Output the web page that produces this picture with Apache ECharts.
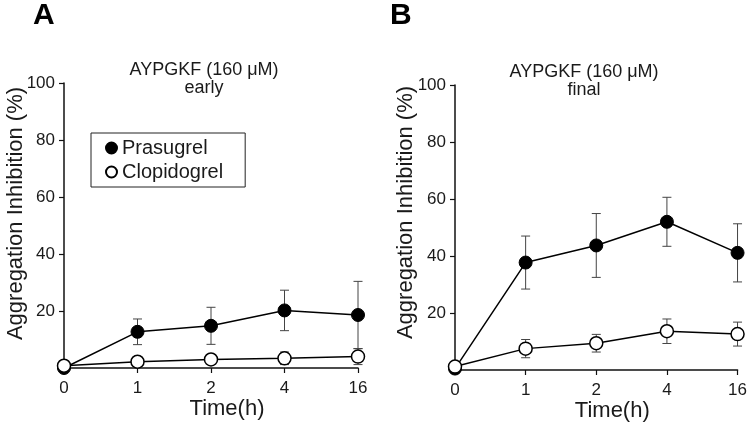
<!DOCTYPE html>
<html>
<head>
<meta charset="utf-8">
<script src="https://cdn.jsdelivr.net/npm/echarts@6/dist/echarts.min.js"></script>
<style>
  html, body { margin: 0; padding: 0; background: #fff; }
  #main { width: 750px; height: 427px; }
</style>
</head>
<body>
<div id="main"></div>
<script>
var timeLabels = ['0', '1', '2', '4', '16'];

// panel A: early
var prasA = [0, 12.7, 14.8, 20.2, 18.6];
var prasA_sd = [0, 4.5, 6.5, 7.1, 11.8];
var clopA = [0.8, 2.2, 3.0, 3.4, 4.0];
var clopA_sd = [0, 1.4, 1.0, 2.2, 2.8];

// panel B: final
var prasB = [0.5, 37.7, 43.7, 52.0, 41.1];
var prasB_sd = [0, 9.3, 11.2, 8.6, 10.2];
var clopB = [1.2, 7.5, 9.4, 13.6, 12.6];
var clopB_sd = [0, 3.2, 3.1, 4.3, 4.2];

var font = 'Liberation Sans, Arial, Helvetica, sans-serif';
var ink = '#1a1a1a';

function errData(mean, sd) {
    var out = [];
    for (var i = 0; i < mean.length; i++) {
        if (sd[i] > 0) out.push([i, mean[i], sd[i]]);
    }
    return out;
}

function errRender(params, api) {
    var x = api.value(0), m = api.value(1), s = api.value(2);
    var top = api.coord([x, m + s]);
    var bot = api.coord([x, m - s]);
    var w = 4.5;
    var st = { stroke: '#444', lineWidth: 1 };
    return {
        type: 'group',
        children: [
            { type: 'line', shape: { x1: top[0], y1: top[1], x2: bot[0], y2: bot[1] }, style: st },
            { type: 'line', shape: { x1: top[0] - w, y1: top[1], x2: top[0] + w, y2: top[1] }, style: st },
            { type: 'line', shape: { x1: bot[0] - w, y1: bot[1], x2: bot[0] + w, y2: bot[1] }, style: st }
        ]
    };
}

function xAxis(idx) {
    return {
        type: 'category',
        gridIndex: idx,
        data: timeLabels,
        boundaryGap: false,
        axisLine: { lineStyle: { color: '#111', width: 1.5 } },
        axisTick: { length: 5, lineStyle: { color: '#111', width: 1.2 } },
        axisLabel: { color: ink, fontSize: 17, fontFamily: font, margin: 12 },
        splitLine: { show: false },
        name: 'Time(h)',
        nameLocation: 'middle',
        nameGap: 30,
        nameMoveOverlap: false,
        nameTextStyle: { color: ink, fontSize: 22, fontFamily: font, padding: [0, 0, 0, 32] }
    };
}

function yAxis(idx, gap, shift) {
    return {
        type: 'value',
        gridIndex: idx,
        min: 0,
        max: 100,
        interval: 20,
        axisLine: { show: true, lineStyle: { color: '#111', width: 1.5 } },
        axisTick: { show: true, length: 5, lineStyle: { color: '#111', width: 1.2 } },
        axisLabel: { color: ink, fontSize: 17, fontFamily: font, margin: 9, showMinLabel: false },
        splitLine: { show: false },
        name: 'Aggregation Inhibition (%)',
        nameLocation: 'middle',
        nameGap: gap,
        nameMoveOverlap: false,
        nameTextStyle: { color: ink, fontSize: 22, fontFamily: font, padding: [0, 0, 0, shift] }
    };
}

function lineSeries(name, idx, data, filled) {
    return {
        name: name,
        type: 'line',
        xAxisIndex: idx,
        yAxisIndex: idx,
        data: data,
        symbol: 'circle',
        symbolSize: 13,
        clip: false,
        z: 3,
        lineStyle: { color: '#000', width: 1.5 },
        itemStyle: filled ? { color: '#000', borderColor: '#000', borderWidth: 1 }
                          : { color: '#fff', borderColor: '#000', borderWidth: 1.5 }
    };
}

function errSeries(idx, mean, sd) {
    return {
        type: 'custom',
        xAxisIndex: idx,
        yAxisIndex: idx,
        renderItem: errRender,
        data: errData(mean, sd),
        encode: { x: 0, y: 1 },
        clip: false,
        z: 2,
        silent: true
    };
}

var myChart = echarts.init(document.getElementById('main'));

var option = {
    backgroundColor: '#fff',
    animation: false,
    title: [
        { text: 'A', left: 33, top: 1, padding: 0, textStyle: { fontSize: 30, fontWeight: 'bold', color: '#000', fontFamily: font } },
        { text: 'B', left: 390, top: 1, padding: 0, textStyle: { fontSize: 30, fontWeight: 'bold', color: '#000', fontFamily: font } },
        {
            text: 'AYPGKF (160 μM)', subtext: 'early', left: 204, top: 61, padding: 0, itemGap: 0, textAlign: 'center',
            textStyle: { fontSize: 18, fontWeight: 'normal', color: ink, fontFamily: font },
            subtextStyle: { fontSize: 18, color: ink, fontFamily: font }
        },
        {
            text: 'AYPGKF (160 μM)', subtext: 'final', left: 584, top: 63, padding: 0, itemGap: 0, textAlign: 'center',
            textStyle: { fontSize: 18, fontWeight: 'normal', color: ink, fontFamily: font },
            subtextStyle: { fontSize: 18, color: ink, fontFamily: font }
        }
    ],
    legend: {
        data: [{ name: 'Prasugrel', icon: 'circle' }, { name: 'Clopidogrel', icon: 'circle' }],
        orient: 'vertical',
        left: 91,
        top: 133,
        padding: [5, 22, 5, 14],
        itemGap: 4,
        itemWidth: 11,
        itemHeight: 11,
        borderColor: '#222',
        borderWidth: 1,
        selectedMode: false,
        textStyle: { fontSize: 20, color: ink, fontFamily: font }
    },
    grid: [
        { left: 64, top: 83, width: 294, height: 285 },
        { left: 455, top: 85, width: 284, height: 285 }
    ],
    xAxis: [xAxis(0), xAxis(1)],
    yAxis: [yAxis(0, 37, 24), yAxis(1, 38, 30)],
    series: [
        lineSeries('Prasugrel', 0, prasA, true),
        lineSeries('Clopidogrel', 0, clopA, false),
        lineSeries('Prasugrel', 1, prasB, true),
        lineSeries('Clopidogrel', 1, clopB, false),
        errSeries(0, prasA, prasA_sd),
        errSeries(0, clopA, clopA_sd),
        errSeries(1, prasB, prasB_sd),
        errSeries(1, clopB, clopB_sd)
    ]
};

myChart.setOption(option);

window.onresize = function() {
    myChart.resize();
};
</script>
</body>
</html>
